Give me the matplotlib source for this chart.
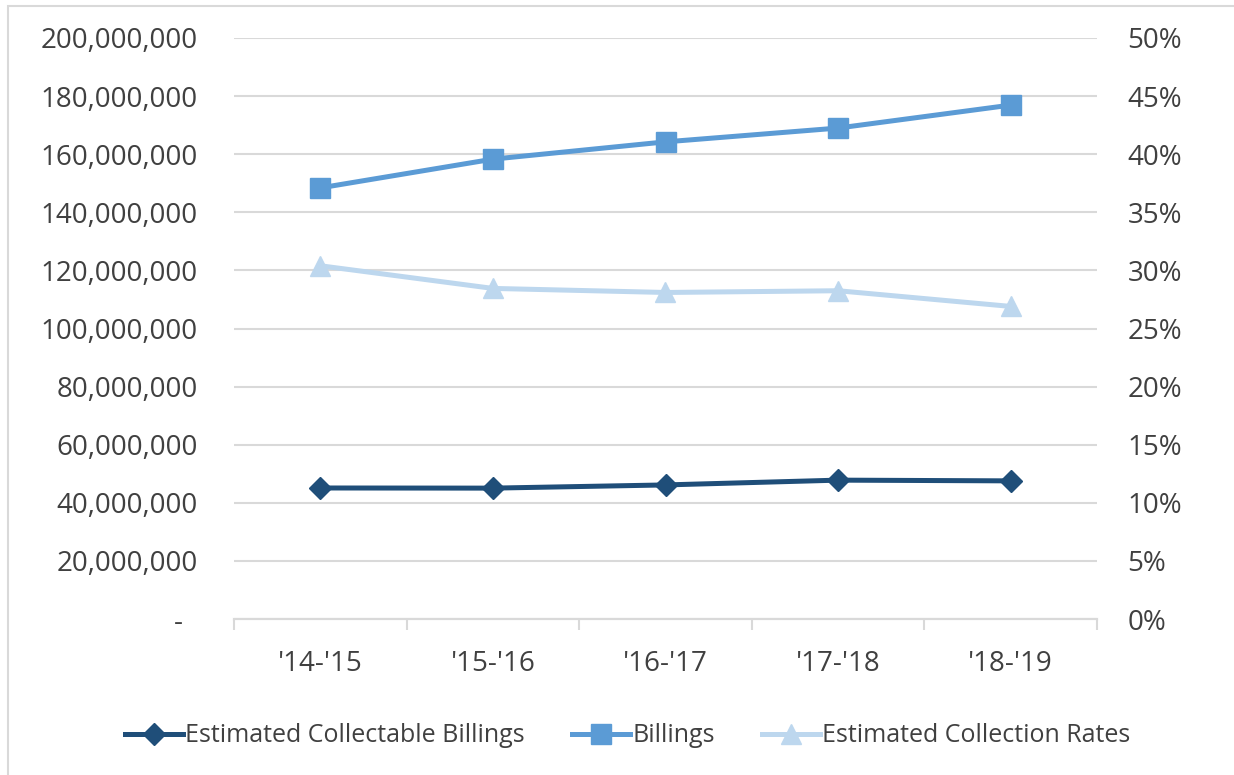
import matplotlib.pyplot as plt
from matplotlib.ticker import FuncFormatter, FixedLocator
from matplotlib.patches import Rectangle

plt.rcParams['font.family'] = ['Open Sans', 'DejaVu Sans']

# Datos por año escolar
years = ["'14-'15", "'15-'16", "'16-'17", "'17-'18", "'18-'19"]
collectable = [45100000, 45050000, 46150000, 47800000, 47550000]
billings = [148400000, 158300000, 164250000, 169000000, 176900000]
rates = [30.4, 28.45, 28.1, 28.25, 26.9]  # porcentaje

dark = '#1F4E79'
mid = '#5B9BD5'
light = '#BDD7EE'
txt = '#404040'
grid = '#D9D9D9'

fig = plt.figure(figsize=(12.34, 7.75), dpi=100)
ax = fig.add_axes([234 / 1234, 1 - 619 / 775, 863 / 1234, 581 / 775])
ax2 = ax.twinx()

x = list(range(len(years)))
l1, = ax.plot(x, collectable, '-D', color=dark, lw=3.6, ms=11, label='Estimated Collectable Billings')
l2, = ax.plot(x, billings, '-s', color=mid, lw=3.6, ms=14, label='Billings')
l3, = ax2.plot(x, rates, '-^', color=light, lw=3.6, ms=15, label='Estimated Collection Rates')

ax.set_xlim(-0.5, len(years) - 0.5)
ax.set_ylim(0, 200000000)
ax2.set_ylim(0, 50)
ax.set_yticks(range(0, 200000001, 20000000))
ax2.set_yticks(range(0, 51, 5))
ax.yaxis.set_major_formatter(FuncFormatter(lambda v, p: '-  ' if v == 0 else f'{int(v):,}'))
ax2.yaxis.set_major_formatter(FuncFormatter(lambda v, p: f'{int(v)}%'))

ax.set_xticks(x)
ax.set_xticklabels(years)
ax.xaxis.set_minor_locator(FixedLocator([i - 0.5 for i in range(len(years) + 1)]))
ax.tick_params(axis='x', which='major', length=0, pad=22, labelsize=20, labelcolor=txt)
ax.tick_params(axis='x', which='minor', length=8, width=1.5, color=grid)
ax.tick_params(axis='y', length=0, pad=26, labelsize=20, labelcolor=txt)
ax2.tick_params(axis='y', length=0, pad=22, labelsize=20, labelcolor=txt)

ax.grid(axis='y', color=grid, lw=1.5)
ax.set_axisbelow(True)
for a in (ax, ax2):
    for s in ('top', 'right', 'left'):
        a.spines[s].set_visible(False)
    a.spines['bottom'].set_color(grid)
    a.spines['bottom'].set_linewidth(1.5)

leg = fig.legend(handles=[l1, l2, l3], loc='center', bbox_to_anchor=(628 / 1234, 1 - 736 / 775),
                 ncol=3, frameon=False, fontsize=18, handlelength=2.3, handletextpad=0.1,
                 columnspacing=1.9)
for t in leg.get_texts():
    t.set_color(txt)

# Marco exterior
fig.patches.append(Rectangle((8 / 1234, -0.01), 1.02, 1 - 6 / 775 + 0.01, transform=fig.transFigure,
                             fill=False, edgecolor=grid, lw=1.5))

fig.savefig('out.png', dpi=100)
